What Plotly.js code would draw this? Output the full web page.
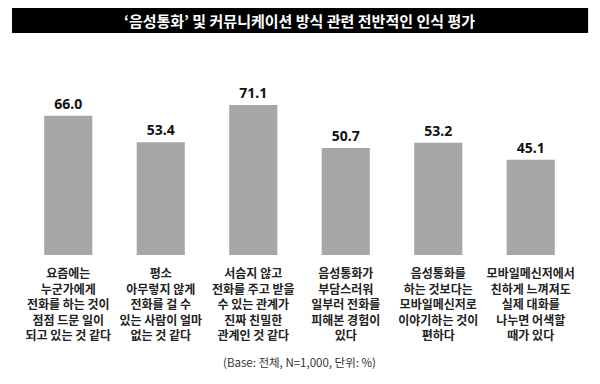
<!DOCTYPE html>
<html>
<head>
<meta charset="utf-8">
<script src="https://cdn.plot.ly/plotly-3.0.1.min.js"></script>
<style>html,body{margin:0;padding:0;background:#fff;}#chart{width:600px;height:384px;}</style>
</head>
<body>
<div id="chart"></div>
<script>
const categories = [
  "요즘에는<br>누군가에게<br>전화를 하는 것이<br>점점 드문 일이<br>되고 있는 것 같다",
  "평소<br>아무렇지 않게<br>전화를 걸 수<br>있는 사람이 얼마<br>없는 것 같다",
  "서슴지 않고<br>전화를 주고 받을<br>수 있는 관계가<br>진짜 친밀한<br>관계인 것 같다",
  "음성통화가<br>부담스러워<br>일부러 전화를<br>피해본 경험이<br>있다",
  "음성통화를<br>하는 것보다는<br>모바일메신저로<br>이야기하는 것이<br>편하다",
  "모바일메신저에서<br>친하게 느껴져도<br>실제 대화를<br>나누면 어색할<br>때가 있다"
];
const values = [66.0, 53.4, 71.1, 50.7, 53.2, 45.1];
const valueLabels = ["66.0", "53.4", "71.1", "50.7", "53.2", "45.1"];
const titleText = "‘음성통화’ 및 커뮤니케이션 방식 관련 전반적인 인식 평가";
const noteText = "(Base: 전체, N=1,000, 단위: %)";

const FONT = "'Noto Sans CJK KR', 'Noto Sans', sans-serif";

const trace = {
  type: 'bar',
  x: categories,
  y: values,
  text: valueLabels,
  textposition: 'outside',
  cliponaxis: false,
  textfont: {family: "'Noto Sans', 'Noto Sans CJK KR', sans-serif", size: 14, color: '#111', weight: 700},
  marker: {color: '#a6a6a6'},
  hoverinfo: 'none'
};

const layout = {
  width: 600, height: 384,
  margin: {l: 22, r: 23, t: 45, b: 129},
  paper_bgcolor: '#fff', plot_bgcolor: '#fff',
  showlegend: false,
  bargap: 0.48,
  font: {family: FONT, color: '#222'},
  xaxis: {
    type: 'category',
    range: [-0.5, 5.5],
    showgrid: false, zeroline: false, showline: false, ticks: '',
    tickfont: {family: FONT, size: 12, color: '#222', weight: 700},
    tickangle: 0,
    ticklabelstandoff: 10
  },
  yaxis: {
    range: [0, 99.5],
    visible: false, showgrid: false, zeroline: false
  },
  shapes: [{
    type: 'rect', xref: 'paper', yref: 'paper',
    x0: -0.018, x1: 1.02, y0: 1.057, y1: 1.176,
    fillcolor: '#000', line: {width: 0}, layer: 'below'
  }],
  annotations: [
    {
      text: titleText, xref: 'paper', yref: 'paper',
      x: 0.5, y: 1.1165, xanchor: 'center', yanchor: 'middle', showarrow: false,
      font: {family: FONT, size: 15, color: '#fff', weight: 700}
    },
    {
      text: noteText, xref: 'paper', yref: 'paper',
      x: 0.5, y: -0.51, xanchor: 'center', yanchor: 'middle', showarrow: false,
      font: {family: FONT, size: 11.5, color: '#333'}
    }
  ]
};

Plotly.newPlot('chart', [trace], layout, {displayModeBar: false, staticPlot: true});
</script>
</body>
</html>
